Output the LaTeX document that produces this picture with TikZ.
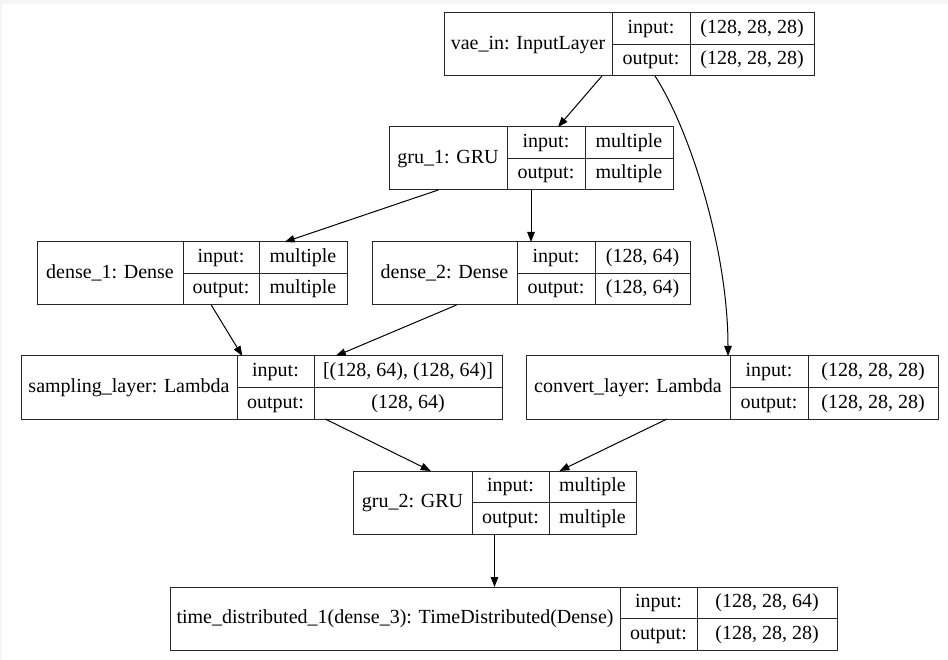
\documentclass[tikz,border=0pt]{standalone}
\usepackage{fontspec}
\setmainfont{Liberation Serif}
\newfontfamily\timesfont{Liberation Serif}
\usetikzlibrary{arrows.meta}
\tikzset{
  recbox/.style={draw=black!85, line width=1pt, minimum height=63pt, inner sep=0pt, outer sep=0pt},
  recline/.style={draw=black!85, line width=1pt},
  celltext/.style={font=\timesfont\fontsize{20}{23}\selectfont, inner sep=0pt, text height=13.5pt, text depth=4pt},
  arr/.style={draw=black, line width=1pt, -{Triangle[length=10pt,width=7.5pt]}},
}
% #1 name, #2 left, #3 top, #4 col1, #5 col2, #6 right, #7 label, #8 input, #9 output
\newcommand{\kerasrec}[9]{%
  \node[recbox, minimum width={(#6-#2)*1pt}, anchor=north west] (#1) at ({#2},{#3}) {};
  \draw[recline] ({#4},{#3}) -- ({#4},{#3+63}) ({#5},{#3}) -- ({#5},{#3+63}) ({#4},{#3+31.5}) -- ({#6},{#3+31.5});
  \node[celltext] (#1-label) at ({(#2+#4)/2},{#3+31.5}) {#7};
  \node[celltext] (#1-inkey) at ({(#4+#5)/2},{#3+15.75}) {input:};
  \node[celltext] (#1-outkey) at ({(#4+#5)/2},{#3+47.25}) {output:};
  \node[celltext] (#1-inval) at ({(#5+#6)/2},{#3+15.75}) {#8};
  \node[celltext] (#1-outval) at ({(#5+#6)/2},{#3+47.25}) {#9};
}
\begin{document}
\begin{tikzpicture}[x=1pt,y=-1pt]
\useasboundingbox (0,0) rectangle (948,660);
\fill[black!4] (0,0) rectangle (948,4);
\fill[black!4] (0,0) rectangle (2,660);

\kerasrec{vae}{444}{13}{612}{690}{814}{vae\_in: InputLayer}{(128, 28, 28)}{(128, 28, 28)}
\kerasrec{gru1}{389}{127}{507}{585}{673}{gru\_1: GRU}{multiple}{multiple}
\kerasrec{dense1}{37}{242}{183}{259}{347}{dense\_1: Dense}{multiple}{multiple}
\kerasrec{dense2}{372}{242}{517}{595}{690}{dense\_2: Dense}{(128, 64)}{(128, 64)}
\kerasrec{sampling}{21}{356}{237}{314}{502}{sampling\_layer: Lambda}{[(128, 64), (128, 64)]}{(128, 64)}
\kerasrec{convert}{526}{356}{730}{808}{938}{convert\_layer: Lambda}{(128, 28, 28)}{(128, 28, 28)}
\kerasrec{gru2}{353}{471}{472}{549}{636}{gru\_2: GRU}{multiple}{multiple}
\kerasrec{time}{170}{587}{620}{697}{837}{time\_distributed\_1(dense\_3): TimeDistributed(Dense)}{(128, 28, 64)}{(128, 28, 28)}

\draw[arr] (vae) -- (gru1);
\draw[arr] ([xshift=211pt]vae.south west) .. controls +(35,54) and +(0,-106) .. ([xshift=202pt]convert.north west);
\draw[arr] (gru1) -- (dense1);
\draw[arr] (gru1) -- (dense2);
\draw[arr] (dense1) -- (sampling);
\draw[arr] (dense2) -- (sampling);
\draw[arr] (sampling) -- (gru2);
\draw[arr] (convert) -- (gru2);
\draw[arr] (gru2.south) -- (gru2.south |- time.north);
\end{tikzpicture}
\end{document}
